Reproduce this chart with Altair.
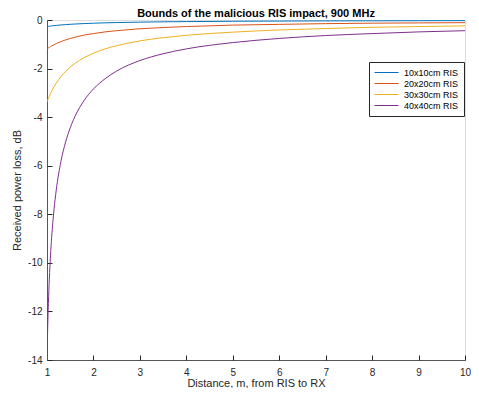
import altair as alt
import pandas as pd

distance = [1, 1.005, 1.01, 1.02, 1.03, 1.05, 1.075, 1.1, 1.15, 1.2, 1.3, 1.4, 1.5,
            1.6, 1.8, 2, 2.25, 2.5, 3, 3.5, 4, 5, 6, 7, 8, 9, 10]

loss_10 = [-0.27, -0.268, -0.266, -0.263, -0.26, -0.255, -0.249, -0.244, -0.233, -0.223,
           -0.205, -0.19, -0.177, -0.166, -0.147, -0.132, -0.117, -0.105, -0.088, -0.075,
           -0.066, -0.052, -0.044, -0.037, -0.033, -0.029, -0.026]
loss_20 = [-1.19, -1.185, -1.18, -1.165, -1.15, -1.13, -1.10, -1.07, -1.02, -0.97,
           -0.89, -0.82, -0.76, -0.71, -0.62, -0.56, -0.49, -0.44, -0.36, -0.31,
           -0.27, -0.21, -0.18, -0.15, -0.13, -0.12, -0.11]
loss_30 = [-3.37, -3.35, -3.32, -3.27, -3.23, -3.14, -3.03, -2.93, -2.75, -2.60,
           -2.33, -2.12, -1.94, -1.79, -1.55, -1.37, -1.19, -1.06, -0.86, -0.73,
           -0.63, -0.50, -0.41, -0.35, -0.30, -0.27, -0.24]
loss_40 = [-13.98, -13.49, -13.05, -12.30, -11.68, -10.67, -9.71, -8.95, -7.82, -6.99,
           -5.82, -5.03, -4.44, -3.98, -3.31, -2.84, -2.42, -2.10, -1.67, -1.39,
           -1.19, -0.93, -0.76, -0.64, -0.56, -0.49, -0.44]

series_names = ["10x10cm RIS", "20x20cm RIS", "30x30cm RIS", "40x40cm RIS"]
series_colors = ["#0072BD", "#D95319", "#EDB120", "#7E2F8E"]
x_ticks = [1, 2, 3, 4, 5, 6, 7, 8, 9, 10]
y_ticks = [-14, -12, -10, -8, -6, -4, -2, 0]

rows = []
for name, vals in zip(series_names, [loss_10, loss_20, loss_30, loss_40]):
    for i, (d, v) in enumerate(zip(distance, vals)):
        rows.append({"d": d, "loss": v, "series": name, "order": i})
df = pd.DataFrame(rows)

FONT = "Liberation Sans"
AX = "#262626"

xscale = alt.Scale(domain=[1, 10], nice=False, zero=False)
yscale = alt.Scale(domain=[-14, 0], nice=False, zero=False)

lines = alt.Chart(df).mark_line(strokeWidth=1, interpolate="monotone", clip=True).encode(
    x=alt.X("d:Q", scale=xscale,
            axis=alt.Axis(orient="bottom", values=x_ticks, ticks=False, grid=False,
                          domainColor="#555555", labelColor=AX, labelFontSize=10,
                          labelFont=FONT, labelPadding=7, labelFlush=False,
                          labelExpr="'' + datum.value",
                          title="Distance, m, from RIS to RX", titleFont=FONT,
                          titleFontSize=11, titleFontWeight="normal", titleColor=AX,
                          titleBaseline="alphabetic", titleY=26)),
    y=alt.Y("loss:Q", scale=yscale,
            axis=alt.Axis(orient="left", values=y_ticks, ticks=False, grid=False,
                          domainColor="#555555", labelColor=AX, labelFontSize=10,
                          labelFont=FONT, labelPadding=5, labelFlush=False,
                          labelExpr="'' + datum.value",
                          title="Received power loss, dB", titleFont=FONT,
                          titleFontSize=11, titleFontWeight="normal", titleColor=AX,
                          titleBaseline="bottom", titleX=-25, titleY=170, titleAngle=-90)),
    color=alt.Color("series:N",
                    scale=alt.Scale(domain=series_names, range=series_colors),
                    legend=alt.Legend(title=None, orient="none", legendX=322, legendY=42,
                                      strokeColor="#262626", fillColor="white", padding=5,
                                      symbolType="M-1,0H3.8", symbolSize=100,
                                      symbolStrokeWidth=1, labelFont=FONT, labelFontSize=9,
                                      labelColor="#000000", labelOffset=19, rowPadding=0)),
    detail="series:N",
    order="order:Q",
)

ticks_layer = alt.Chart(df).mark_line(strokeOpacity=0).encode(
    x=alt.X("d:Q", scale=xscale,
            axis=alt.Axis(orient="bottom", values=x_ticks, offset=-5, tickSize=5,
                          tickColor="#262626", labels=False, domain=False, grid=False,
                          title=None)),
    y=alt.Y("loss:Q", scale=yscale,
            axis=alt.Axis(orient="left", values=y_ticks, offset=-5, tickSize=5,
                          tickColor="#262626", labels=False, domain=False, grid=False,
                          title=None)),
    detail="series:N",
)

chart = alt.layer(lines, ticks_layer).resolve_axis(x="independent", y="independent").properties(
    width=418,
    height=340,
    autosize=alt.AutoSizeParams(type="none"),
    padding={"left": 39, "top": 12, "right": 6, "bottom": 28},
    title=alt.TitleParams(text="Bounds of the malicious RIS impact, 900 MHz", font=FONT,
                          fontSize=11, fontWeight="bold", color="#000000",
                          anchor="middle", offset=4, dy=8),
).configure_view(stroke=None).configure(background="white")

chart.save("out.html", embed_options={"renderer": "svg", "actions": False})
